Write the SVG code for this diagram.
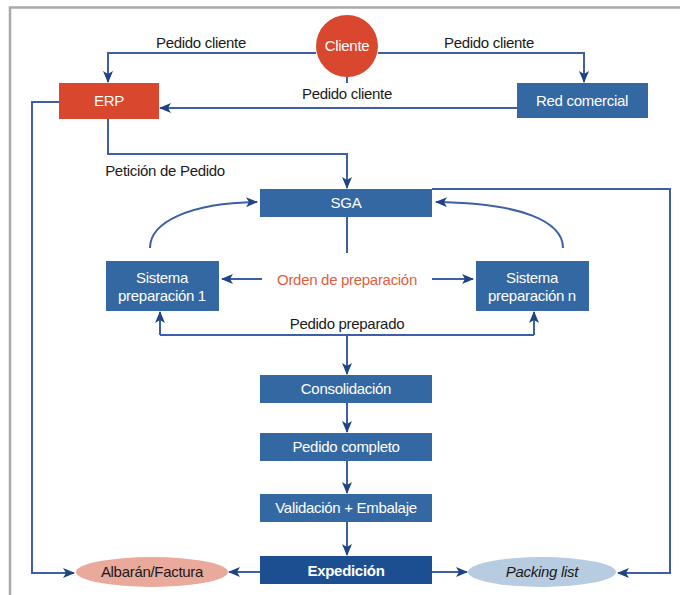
<svg xmlns="http://www.w3.org/2000/svg" width="680" height="595" viewBox="0 0 680 595">
  <style>
    .frame { fill: none; stroke: #a9a9a9; stroke-width: 2.5; }
    .box { fill: #3368a3; }
    .box-dark { fill: #1c4f92; }
    .box-red { fill: #d9472f; }
    .wire { fill: none; stroke: #3d5fa8; stroke-width: 2; }
    .t { font-family: "Liberation Sans Narrow", "Liberation Sans", Arial, sans-serif; font-size: 15px; letter-spacing: -0.3px; }
    .lbl { fill: #1a1a1a; text-anchor: middle; }
    .in { fill: #ffffff; text-anchor: middle; }
    .orden { fill: #e0603e; text-anchor: middle; }
  </style>
  <defs>
    <marker id="arrow" viewBox="0 0 12 10" refX="11" refY="5" markerWidth="13" markerHeight="10" markerUnits="userSpaceOnUse" orient="auto">
      <path d="M0,0 L12,5 L0,10 L3,5 Z" fill="#1e4386"/>
    </marker>
  </defs>

  <rect width="680" height="595" fill="#ffffff"/>
  <!-- page frame -->
  <path class="frame" d="M10,595 L10,7.5 L680,7.5"/>

  <!-- connectors -->
  <g id="connectors">
    <path class="wire" d="M316,53 L108,53 L108,82" marker-end="url(#arrow)"/>
    <path class="wire" d="M378,53 L584,53 L584,82" marker-end="url(#arrow)"/>
    <path class="wire" d="M347,77 L347,83"/>
    <path class="wire" d="M517,108 L160,108" marker-end="url(#arrow)"/>
    <path class="wire" d="M108,119 L108,154 L347,154 L347,188" marker-end="url(#arrow)"/>
    <path class="wire" d="M59,102 L32,102 L32,573 L74,573" marker-end="url(#arrow)"/>
    <path class="wire" d="M432,189 L670,189 L670,573 L618,573" marker-end="url(#arrow)"/>
    <path class="wire" d="M150,248 C150,222 190,203 257,202" marker-end="url(#arrow)"/>
    <path class="wire" d="M563,248 C563,222 523,203 436,202" marker-end="url(#arrow)"/>
    <path class="wire" d="M347,217 L347,253"/>
    <path class="wire" d="M262,279 L222,279" marker-end="url(#arrow)"/>
    <path class="wire" d="M432,279 L473,279" marker-end="url(#arrow)"/>
    <path class="wire" d="M160,335 L534,335"/>
    <path class="wire" d="M160,335 L160,312" marker-end="url(#arrow)"/>
    <path class="wire" d="M534,335 L534,312" marker-end="url(#arrow)"/>
    <path class="wire" d="M347,335 L347,374" marker-end="url(#arrow)"/>
    <path class="wire" d="M347,403 L347,432" marker-end="url(#arrow)"/>
    <path class="wire" d="M347,461 L347,493" marker-end="url(#arrow)"/>
    <path class="wire" d="M347,522 L347,555" marker-end="url(#arrow)"/>
    <path class="wire" d="M260,572 L229,572" marker-end="url(#arrow)"/>
    <path class="wire" d="M432,572 L467,572" marker-end="url(#arrow)"/>
  </g>

  <!-- connector labels -->
  <g id="labels" class="t">
    <text class="lbl" x="201" y="48">Pedido cliente</text>
    <text class="lbl" x="489" y="48">Pedido cliente</text>
    <text class="lbl" x="347" y="99">Pedido cliente</text>
    <text class="lbl" x="165" y="176">Petición de Pedido</text>
    <text class="orden" x="347" y="285">Orden de preparación</text>
    <text class="lbl" x="347" y="329">Pedido preparado</text>
  </g>

  <g id="cliente">
    <circle cx="347" cy="46" r="31" fill="#d9472f"/>
    <text class="t in" x="347" y="51">Cliente</text>
  </g>
  <g id="erp">
    <rect class="box-red" x="59" y="83" width="100" height="36"/>
    <text class="t in" x="109" y="106">ERP</text>
  </g>
  <g id="red-comercial">
    <rect class="box" x="517" y="83" width="131" height="35"/>
    <text class="t in" x="582" y="106">Red comercial</text>
  </g>
  <g id="sga">
    <rect class="box" x="260" y="189" width="172" height="28"/>
    <text class="t in" x="346" y="208">SGA</text>
  </g>
  <g id="sistema-1">
    <rect class="box" x="106" y="261" width="113" height="50"/>
    <text class="t in" x="162" y="283">Sistema</text>
    <text class="t in" x="162" y="301">preparación 1</text>
  </g>
  <g id="sistema-n">
    <rect class="box" x="476" y="261" width="113" height="50"/>
    <text class="t in" x="532" y="283">Sistema</text>
    <text class="t in" x="532" y="301">preparación n</text>
  </g>
  <g id="consolidacion">
    <rect class="box" x="260" y="375" width="172" height="28"/>
    <text class="t in" x="346" y="394">Consolidación</text>
  </g>
  <g id="pedido-completo">
    <rect class="box" x="260" y="433" width="172" height="28"/>
    <text class="t in" x="346" y="452">Pedido completo</text>
  </g>
  <g id="validacion">
    <rect class="box" x="260" y="494" width="172" height="28"/>
    <text class="t in" x="346" y="513">Validación + Embalaje</text>
  </g>
  <g id="expedicion">
    <rect class="box-dark" x="260" y="556" width="172" height="28"/>
    <text class="t in" x="346" y="576" font-weight="bold">Expedición</text>
  </g>
  <g id="albaran">
    <ellipse cx="152" cy="572" rx="76" ry="15" fill="#e9a99b"/>
    <text class="t lbl" x="152" y="577">Albarán/Factura</text>
  </g>
  <g id="packing">
    <ellipse cx="542" cy="572" rx="74" ry="15" fill="#b7cce0"/>
    <text class="t lbl" x="542" y="577" font-style="italic" fill="#333333">Packing list</text>
  </g>
</svg>
